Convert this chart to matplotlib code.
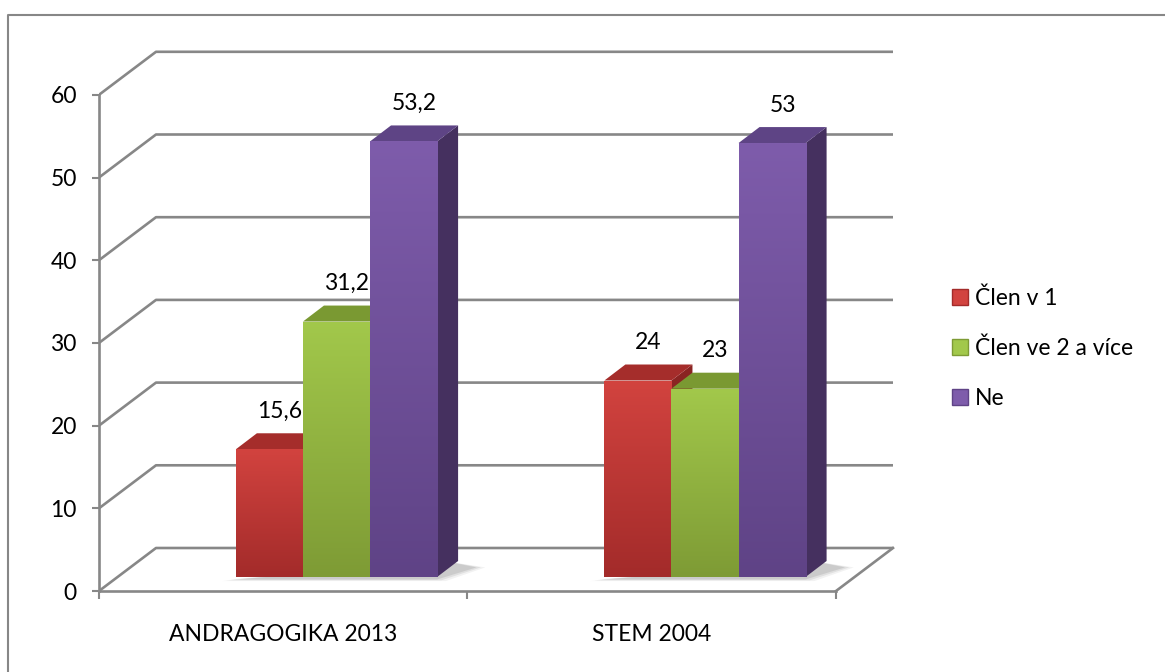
import numpy as np
import matplotlib
matplotlib.use("Agg")
import matplotlib.pyplot as plt
from matplotlib.patches import Polygon, Patch
from matplotlib.lines import Line2D
from matplotlib.colors import LinearSegmentedColormap


categories   = ["ANDRAGOGIKA 2013", "STEM 2004"]
series       = ["Člen v 1", "Člen ve 2 a více", "Ne"]
values_clen1 = [15.6, 24]
values_clen2 = [31.2, 23]
values_ne    = [53.2, 53]
value_labels = [["15,6", "24"], ["31,2", "23"], ["53,2", "53"]]
y_ticks      = [0, 10, 20, 30, 40, 50, 60]

# front (top / bottom of gradient), top face, side face
front_top = ["#d2433f", "#a2c84b", "#7e5cab"]
front_bot = ["#a32b2a", "#7e9b35", "#5f4386"]
top_face  = ["#a52d2b", "#7a9932", "#5e4485"]
side_face = ["#8a2422", "#6a8829", "#45305f"]

GRID = "#878787"
FS   = 16.5
plt.rcParams["font.family"] = ["Lato", "DejaVu Sans"]

# pixel scale of the front plane
PX_X = 368.5   # px per category
PX_Y = 8.27    # px per unit

fig = plt.figure(figsize=(11.65, 6.72), dpi=100)
ax  = fig.add_axes([99 / 1165, 81 / 672, 810 / 1165, 546 / 672])

# oblique offsets (back wall, bar front face, bar depth)
wall_dx,  wall_dy  = 57 / PX_X, 43 / PX_Y
bar_dx,   bar_dy   = 18.6 / PX_X, 14 / PX_Y
depth_dx, depth_dy = 21 / PX_X, 16 / PX_Y
persp = 0.99
w     = 0.182
shift = 0.094

# walls / gridlines
for v in y_ticks:
    ax.plot([0, wall_dx, len(categories) + wall_dx], [v, v + wall_dy, v + wall_dy],
            color=GRID, lw=1.9, solid_capstyle="butt", zorder=1)
ax.plot([len(categories), len(categories) + wall_dx], [0, wall_dy],
        color=GRID, lw=1.9, zorder=1)

all_vals = [values_clen1, values_clen2, values_ne]
grad = np.linspace(0, 1, 256).reshape(-1, 1)
z = 2.0
for ci in range(len(categories)):
    # soft floor shadow under the group
    gx0 = ci + 0.5 + shift - 1.5 * w + bar_dx
    for k, a in enumerate([0.05, 0.07, 0.09]):
        e = 0.012 * (2 - k)
        shadow = Polygon([(gx0 - e - 0.015, bar_dy - 0.3 - e * 8), (gx0 + 3 * w + e, bar_dy - 0.3 - e * 8),
                          (gx0 + 3 * w + depth_dx + 0.05 + e, bar_dy + depth_dy * 0.6),
                          (gx0 + 3 * w + 0.02, bar_dy + depth_dy)],
                         facecolor="#000000", alpha=a, lw=0, zorder=z)
        ax.add_patch(shadow)
    z += 0.1
    for si in range(len(series)):
        v  = all_vals[si][ci]
        h  = v * persp
        x0 = ci + 0.5 + shift + (si - 1) * w - w / 2 + bar_dx
        y0 = bar_dy

        side = Polygon([(x0 + w, y0), (x0 + w + depth_dx, y0 + depth_dy),
                        (x0 + w + depth_dx, y0 + h + depth_dy), (x0 + w, y0 + h)],
                       facecolor=side_face[si], lw=0, zorder=z)
        ax.add_patch(side)
        top = Polygon([(x0, y0 + h), (x0 + depth_dx, y0 + h + depth_dy),
                       (x0 + w + depth_dx, y0 + h + depth_dy), (x0 + w, y0 + h)],
                      facecolor=top_face[si], lw=0, zorder=z + 0.01)
        ax.add_patch(top)
        bar = ax.bar(x0, h, width=w, bottom=y0, align="edge",
                     color=front_bot[si], lw=0, zorder=z + 0.02)[0]
        cmap = LinearSegmentedColormap.from_list("g", [front_bot[si], front_top[si]])
        im = ax.imshow(grad, cmap=cmap, origin="lower", aspect="auto",
                       extent=[x0, x0 + w, y0, y0 + h], zorder=z + 0.03)
        im.set_clip_path(bar)

        ax.text(x0 + w / 2 + depth_dx / 2, y0 + h + 4.6, value_labels[si][ci],
                ha="center", va="center", fontsize=FS, color="black", zorder=20)
        z += 0.1

ax.set_xlim(0, 810 / PX_X)
ax.set_ylim(0, 546 / PX_Y)

for s in ["top", "right"]:
    ax.spines[s].set_visible(False)
for s in ["left", "bottom"]:
    ax.spines[s].set_color(GRID)
    ax.spines[s].set_linewidth(1.9)
ax.spines["left"].set_bounds(0, 60)
ax.spines["bottom"].set_bounds(0, len(categories))

ax.set_yticks(y_ticks)
ax.tick_params(axis="y", length=5, width=1.5, color=GRID, pad=11, labelsize=FS)
ax.set_xticks(range(len(categories) + 1))
ax.set_xticklabels([])
ax.set_xticks([i + 0.5 for i in range(len(categories))], minor=True)
ax.set_xticklabels(categories, minor=True, fontsize=FS)
ax.tick_params(axis="x", which="major", length=6, width=1.5, color=GRID)
ax.tick_params(axis="x", which="minor", length=0, pad=24)

handles = [Patch(facecolor=front_top[i], edgecolor=front_bot[i], lw=1) for i in range(3)]
fig.legend(handles, series, loc="center left", bbox_to_anchor=(952 / 1165, 1 - 348 / 672),
           frameon=False, handlelength=0.7, handleheight=0.7, handletextpad=0.3,
           labelspacing=1.25, borderpad=0, borderaxespad=0, fontsize=FS)

# outer chart border (cut off at right and bottom)
fig.add_artist(Line2D([8 / 1165, 8 / 1165, 1], [0, 1 - 15 / 672, 1 - 15 / 672],
                      transform=fig.transFigure, color=GRID, lw=1.5))

fig.savefig("out.png", dpi=100)
